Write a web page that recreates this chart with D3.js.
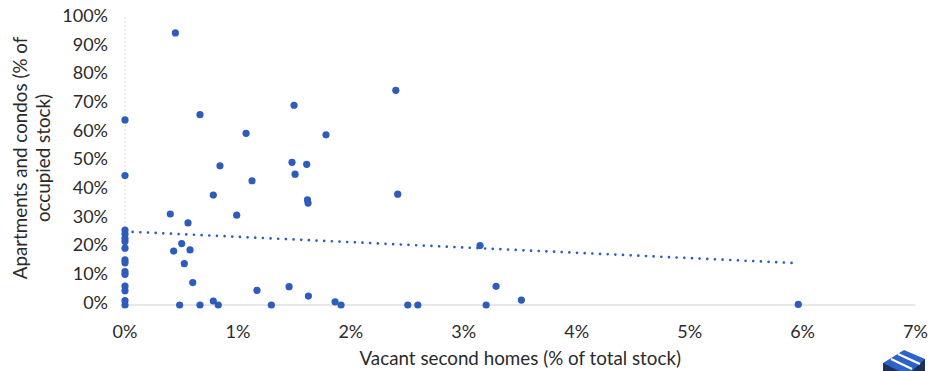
<!DOCTYPE html>
<html><head><meta charset="utf-8">
<script src="https://cdn.jsdelivr.net/npm/d3@7"></script>
<style>body{margin:0;background:#fff}svg{display:block}</style>
</head><body><svg id="c" width="932" height="371"></svg>
<script>
// Vacant second homes (% of total stock)
const vacantSecondHomes = [
  0,0,0,0,0,0,0,0,0,0,0,0,0,0,0,
  0.446,0.664,1.072,0.841,1.125,0.782,0.401,0.989,0.558,
  0.502,0.431,0.576,0.525,0.600,0.484,0.664,0.782,0.826,
  1.479,1.609,1.506,1.616,1.621,1.169,1.453,1.624,1.296,1.860,1.913,
  1.497,1.780,2.398,2.415,3.144,3.286,3.510,2.504,2.593,3.198,5.962
];
// Apartments and condos (% of occupied stock)
const apartmentsCondos = [
  64.5,45.1,26.1,24.7,23.2,22.1,19.8,15.7,14.7,11.6,10.7,6.6,5.0,1.5,0,
  94.8,66.3,59.8,48.5,43.3,38.3,31.7,31.3,28.6,
  21.4,18.8,19.2,14.4,7.8,0,0,1.4,0,
  49.7,49.0,45.6,36.6,35.5,5.1,6.4,3.1,0,1.1,0,
  69.6,59.3,74.8,38.6,20.7,6.5,1.7,0,0,0,0.2
];
const trendX = [0, 5.94];
const trendY = [25.6, 14.6];
const xTicks = [0,1,2,3,4,5,6,7];
const yTicks = [0,10,20,30,40,50,60,70,80,90,100];

const svg = d3.select("#c");
const x = d3.scaleLinear().domain([0,7]).range([125,915.5]);
const y = d3.scaleLinear().domain([0,100]).range([305,18]);
const blue = "#2d5cbd";
const txt = "#2b2b2b";
const font = "Lato, 'Open Sans', sans-serif";

// axis lines
svg.append("line").attr("x1",x(0)).attr("x2",x(7)).attr("y1",y(0)).attr("y2",y(0))
  .attr("stroke","#cfcfcf").attr("stroke-width",1);
svg.append("line").attr("x1",x(0)).attr("x2",x(0)).attr("y1",y(100)-1).attr("y2",y(0))
  .attr("stroke","#e2e2e2").attr("stroke-width",1).attr("stroke-dasharray","2 2");

// y tick labels
svg.append("g").selectAll("text").data(yTicks).join("text")
  .attr("x",108).attr("y",d=>y(d)-2.5).attr("dy","0.35em")
  .attr("text-anchor","end").attr("fill",txt)
  .style("font-family",font).style("font-size","18px")
  .text(d=>d+"%");

// x tick labels
svg.append("g").selectAll("text").data(xTicks).join("text")
  .attr("x",d=>x(d)).attr("y",337.5)
  .attr("text-anchor","middle").attr("fill",txt)
  .style("font-family",font).style("font-size","18px")
  .text(d=>d+"%");

// axis titles
svg.append("text").attr("x",(x(0)+x(7))/2).attr("y",364.5)
  .attr("text-anchor","middle").attr("fill",txt)
  .style("font-family",font).style("font-size","18.8px")
  .text("Vacant second homes (% of total stock)");
const yt = svg.append("text").attr("transform","translate(0,158) rotate(-90)")
  .attr("text-anchor","middle").attr("fill",txt)
  .style("font-family",font).style("font-size","18.8px");
yt.append("tspan").attr("x",0).attr("y",27).text("Apartments and condos (% of");
yt.append("tspan").attr("x",0).attr("y",50).text("occupied stock)");

// trend line (dotted)
svg.append("path")
  .datum(trendX.map((d,i)=>[d,trendY[i]]))
  .attr("d",d3.line().x(d=>x(d[0])).y(d=>y(d[1])))
  .attr("fill","none").attr("stroke",blue).attr("stroke-width",2.7)
  .attr("stroke-linecap","round").attr("stroke-dasharray","0 7.67");

// points
svg.append("g").selectAll("circle").data(vacantSecondHomes).join("circle")
  .attr("cx",d=>x(d)).attr("cy",(d,i)=>y(apartmentsCondos[i]))
  .attr("r",3.6).attr("fill",blue);

// logo (bottom right, partially cut)
const lg = svg.append("g");
lg.append("polygon").attr("points","883,363 904,350 925,359 925,371 883,371").attr("fill","#2d63c8");
lg.append("polygon").attr("points","883,363 899,371 883,371").attr("fill","#1e2f5e");
lg.append("polygon").attr("points","925,359 925,371 912,371").attr("fill","#1e2f5e");
lg.append("line").attr("x1",891).attr("y1",359).attr("x2",912).attr("y2",369).attr("stroke","#fff").attr("stroke-width",2.2);
lg.append("line").attr("x1",898).attr("y1",354).attr("x2",920).attr("y2",364).attr("stroke","#fff").attr("stroke-width",2.2);
</script>
</body></html>
